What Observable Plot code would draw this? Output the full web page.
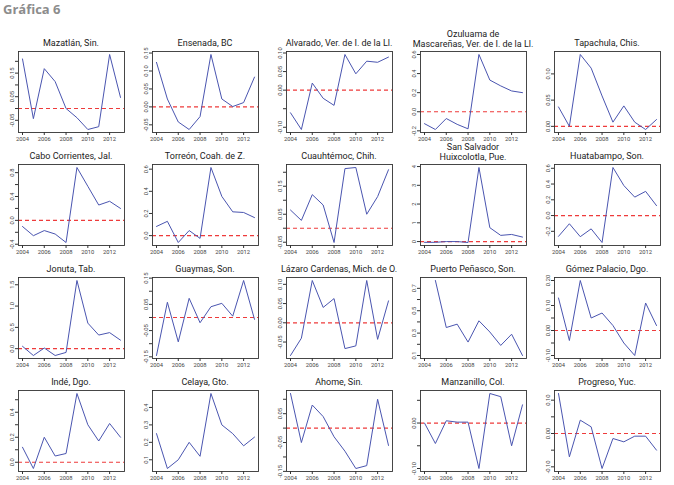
<!DOCTYPE html>
<html><head><meta charset="utf-8">
<script src="https://cdn.jsdelivr.net/npm/d3@7"></script>
<script src="https://cdn.jsdelivr.net/npm/@observablehq/plot@0.6"></script>
<style>
body{margin:0;background:#fff;}
#root{position:relative;width:674px;height:485px;overflow:hidden;font-family:Roboto,"Liberation Sans",sans-serif;}
#hdr{position:absolute;left:3px;top:0px;font-size:13px;font-weight:bold;color:#8c8c8c;font-family:"Open Sans",sans-serif;}
.t{position:absolute;text-align:center;font-size:9px;color:#222;line-height:10.5px;white-space:nowrap;transform:translateX(-50%);}
.t2{line-height:9.5px;}
.p{position:absolute;}
</style></head><body><div id="root"><div id="hdr">Gráfica 6</div></div>
<script>
const years = [2004,2005,2006,2007,2008,2009,2010,2011,2012,2013];
const xTicks = [2004,2006,2008,2010,2012];

const titles = [
  ["Mazatlán, Sin."], ["Ensenada, BC"], ["Alvarado, Ver. de I. de la Ll."],
  ["Ozuluama de","Mascareñas, Ver. de I. de la Ll."], ["Tapachula, Chis."],
  ["Cabo Corrientes, Jal."], ["Torreón, Coah. de Z."], ["Cuauhtémoc, Chih."],
  ["San Salvador","Huixcolotla, Pue."], ["Huatabampo, Son."],
  ["Jonuta, Tab."], ["Guaymas, Son."], ["Lázaro Cardenas, Mich. de O."],
  ["Puerto Peñasco, Son."], ["Gómez Palacio, Dgo."],
  ["Indé, Dgo."], ["Celaya, Gto."], ["Ahome, Sin."], ["Manzanillo, Col."], ["Progreso, Yuc."]
];

const mazatlan   = [0.21,-0.043,0.169,0.114,0.0,-0.039,-0.089,-0.077,0.229,0.047];
const ensenada   = [0.124,0.022,-0.042,-0.063,-0.027,0.146,0.022,0.001,0.012,0.083];
const alvarado   = [-0.061,-0.106,0.019,-0.022,-0.041,0.096,0.044,0.078,0.075,0.089];
const ozuluama   = [-0.125,-0.186,-0.071,-0.132,-0.179,0.6,0.332,0.271,0.218,0.2];
const tapachula  = [0.037,0.0,0.137,0.111,0.058,0.008,0.039,0.008,-0.006,0.013];
const cabo       = [-0.103,-0.257,-0.171,-0.229,-0.371,0.886,0.571,0.257,0.32,0.2];
const torreon    = [0.083,0.129,-0.062,0.046,-0.025,0.615,0.354,0.215,0.209,0.163];
const cuauhtemoc = [0.065,0.028,0.12,0.083,-0.051,0.213,0.217,0.05,0.113,0.209];
const sanSalvador= [-0.04,-0.04,0.0,0.0,-0.05,3.95,0.74,0.33,0.38,0.24];
const huatabampo = [-0.264,-0.104,-0.268,-0.169,-0.342,0.61,0.381,0.234,0.307,0.126];
const jonuta     = [0.056,-0.16,0.016,-0.16,-0.088,1.6,0.6,0.32,0.377,0.2];
const guaymas    = [-0.145,0.058,-0.093,0.073,-0.02,0.041,0.054,0.005,0.141,-0.007];
const lazaro     = [-0.085,-0.04,0.11,0.04,0.063,-0.067,-0.06,0.11,-0.043,0.057];
const penasco    = [null,0.77,0.35,0.38,0.22,0.41,0.31,0.19,0.29,0.1];
const gomez      = [0.13,-0.04,0.2,0.05,0.07,0.02,-0.05,-0.1,0.11,0.02];
const inde       = [0.12,-0.05,0.2,0.05,0.07,0.55,0.3,0.17,0.31,0.2];
const celaya     = [0.25,0.05,0.1,0.2,0.12,0.48,0.3,0.25,0.18,0.23];
const ahome      = [0.12,-0.05,0.08,0.04,-0.03,-0.08,-0.14,-0.13,0.1,-0.06];
const manzanillo = [0.0,-0.045,0.005,0.002,0.002,-0.1,0.065,0.058,-0.05,0.04];
const progreso   = [0.12,-0.07,0.04,0.02,-0.105,-0.015,-0.025,-0.008,-0.008,-0.05];

const seriesList = [mazatlan,ensenada,alvarado,ozuluama,tapachula,cabo,torreon,cuauhtemoc,sanSalvador,huatabampo,
  jonuta,guaymas,lazaro,penasco,gomez,inde,celaya,ahome,manzanillo,progreso];

// y tick values and their printed labels ("" = tick without label)
const yTicks = [
  [-0.05,0,0.05,0.10,0.15,0.20], [-0.05,0,0.05,0.10,0.15], [-0.10,-0.05,0,0.05,0.10],
  [-0.2,0,0.2,0.4,0.6], [0,0.05,0.10],
  [-0.4,-0.2,0,0.2,0.4,0.6,0.8], [0,0.2,0.4,0.6], [-0.05,0,0.05,0.10,0.15,0.20],
  [0,1,2,3,4], [-0.2,0,0.2,0.4,0.6],
  [0,0.5,1.0,1.5], [-0.15,-0.10,-0.05,0,0.05,0.10,0.15], [-0.05,0,0.05,0.10],
  [0.1,0.2,0.3,0.4,0.5,0.6,0.7], [-0.10,-0.05,0,0.05,0.10,0.15,0.20],
  [0,0.1,0.2,0.3,0.4,0.5], [0.1,0.2,0.3,0.4], [-0.15,-0.10,-0.05,0,0.05,0.10], [-0.10,-0.05,0,0.05], [-0.10,-0.05,0,0.05,0.10]
];
const yLabels = [
  ["-0.05","","0.05","","0.15",""], ["-0.05","0.00","0.05","0.10","0.15"], ["-0.10","","0.00","0.05","0.10"],
  ["-0.2","0.0","0.2","0.4","0.6"], ["0.00","0.05","0.10"],
  ["-0.4","","0.0","","0.4","","0.8"], ["0.0","0.2","0.4","0.6"], ["-0.05","","0.05","","0.15",""],
  ["0","1","2","3","4"], ["-0.2","0.0","0.2","0.4","0.6"],
  ["0.0","0.5","1.0","1.5"], ["-0.15","","-0.05","","0.05","","0.15"], ["-0.05","0.00","0.05","0.10"],
  ["0.1","","0.3","","0.5","","0.7"], ["-0.10","","0.00","","0.10","","0.20"],
  ["0.0","","0.2","","0.4",""], ["0.1","0.2","0.3","0.4"], ["-0.15","","-0.05","","0.05",""], ["-0.10","","0.00",""], ["-0.10","","0.00","","0.10"]
];

const rowTop = [51, 164, 277, 390];
const boxH = 81;
const colLeft0 = 18, colStep = 134, boxW = 106;

const root = document.getElementById("root");
seriesList.forEach((vals, i) => {
  const c = i % 5, r = Math.floor(i / 5);
  const boxL = colLeft0 + colStep * c;
  const boxT = rowTop[r];
  const data = years.map((y, k) => ({year: y, v: vals[k]})).filter(d => d.v != null);
  const ext = d3.extent(data, d => d.v);
  const labelMap = new Map(yTicks[i].map((t, k) => [t, yLabels[i][k]]));
  const mL = 18, mT = 2, mB = 16;
  const pad = boxH * 0.037;
  const chart = Plot.plot({
    width: colStep, height: mT + boxH + mB,
    marginLeft: mL, marginRight: colStep - mL - boxW, marginTop: mT, marginBottom: mB,
    style: {fontSize: "5.8px", fontFamily: "Roboto, sans-serif", color: "#444", background: "transparent", overflow: "visible"},
    x: {domain: [2004, 2013], inset: 4},
    y: {domain: ext, insetTop: pad, insetBottom: pad},
    marks: [
      (ext[0] <= 0 && ext[1] >= 0) ? Plot.ruleY([0], {stroke: "#ee3b3b", strokeDasharray: "4,3", strokeWidth: 1.2}) : null,
      Plot.line(data, {x: "year", y: "v", stroke: "#4a55b0", strokeWidth: 1}),
      Plot.frame({stroke: "#333", strokeWidth: 0.9}),
      Plot.axisX({ticks: xTicks, tickFormat: d => String(d), tickSize: 3, tickPadding: 1.5, label: null, stroke: "#333"}),
      Plot.axisY({ticks: yTicks[i], tickFormat: d => labelMap.get(d) ?? "", tickSize: 3, tickPadding: 1.5, tickRotate: -90, label: null, stroke: "#333"})
    ]
  });
  chart.classList.add("p");
  chart.style.left = (boxL - mL) + "px";
  chart.style.top = (boxT - mT) + "px";
  root.appendChild(chart);

  const t = document.createElement("div");
  const lines = titles[i];
  t.className = lines.length > 1 ? "t t2" : "t";
  t.style.left = (boxL + boxW / 2) + "px";
  t.style.top = (lines.length > 1 ? boxT - 21 : boxT - 13.5) + "px";
  t.innerHTML = lines.join("<br>");
  root.appendChild(t);
});
</script></body></html>
